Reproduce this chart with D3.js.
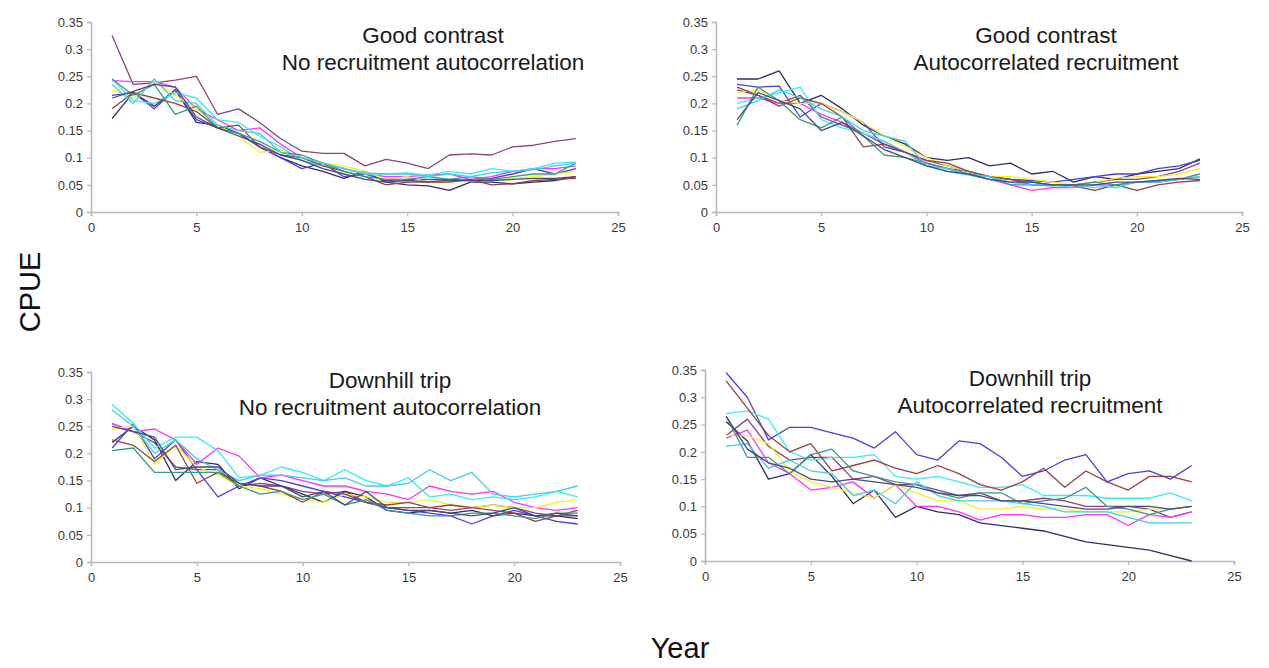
<!DOCTYPE html>
<html>
<head>
<meta charset="utf-8">
<script src="https://cdn.jsdelivr.net/npm/d3@7/dist/d3.min.js"></script>
<style>
  html, body { margin: 0; padding: 0; background: #fff; }
  svg { display: block; }
  text { font-family: "Liberation Sans", Arial, sans-serif; }
</style>
</head>
<body>
<svg id="chart" width="1269" height="668"></svg>
<script>
// ---------------- data ----------------
const years = d3.range(1, 24);
const xTicks = [0, 5, 10, 15, 20, 25];
const yTicks = [0, 0.05, 0.1, 0.15, 0.2, 0.25, 0.3, 0.35];
const yTickLabels = ["0", "0.05", "0.1", "0.15", "0.2", "0.25", "0.3", "0.35"];
const seriesColors = ["#884480", "#2e2e6a", "#4a3ee6", "#ff33ff", "#f2f222",
                      "#33eeee", "#994040", "#3a9a80", "#44ccee", "#4a4a78"];

const titleGoodNoAc = ["Good contrast", "No recruitment autocorrelation"];
const titleGoodAc = ["Good contrast", "Autocorrelated recruitment"];
const titleDownNoAc = ["Downhill trip", "No recruitment autocorrelation"];
const titleDownAc = ["Downhill trip", "Autocorrelated recruitment"];

// Good contrast, no recruitment autocorrelation
const goodNoAc = [
  [0.325,0.235,0.238,0.243,0.25,0.18,0.19,0.165,0.135,0.112,0.108,0.108,0.085,0.097,0.09,0.08,0.105,0.107,0.105,0.12,0.123,0.13,0.135],
  [0.172,0.22,0.195,0.225,0.165,0.16,0.145,0.12,0.1,0.085,0.075,0.062,0.075,0.055,0.05,0.048,0.04,0.055,0.055,0.052,0.055,0.058,0.065],
  [0.215,0.22,0.19,0.225,0.17,0.155,0.145,0.12,0.1,0.08,0.09,0.065,0.07,0.058,0.06,0.06,0.06,0.058,0.062,0.07,0.08,0.07,0.08],
  [0.242,0.24,0.24,0.23,0.19,0.17,0.15,0.155,0.125,0.1,0.09,0.08,0.07,0.065,0.065,0.068,0.07,0.06,0.065,0.075,0.08,0.08,0.085],
  [0.225,0.21,0.24,0.215,0.19,0.16,0.14,0.11,0.115,0.1,0.09,0.085,0.075,0.06,0.065,0.055,0.055,0.058,0.058,0.062,0.065,0.07,0.075],
  [0.245,0.205,0.2,0.22,0.21,0.17,0.165,0.14,0.12,0.095,0.085,0.08,0.07,0.07,0.072,0.068,0.075,0.07,0.08,0.075,0.08,0.09,0.092],
  [0.19,0.22,0.21,0.2,0.185,0.155,0.16,0.12,0.105,0.1,0.085,0.075,0.065,0.05,0.055,0.055,0.055,0.06,0.05,0.052,0.058,0.06,0.062],
  [0.245,0.215,0.235,0.18,0.195,0.155,0.145,0.13,0.11,0.105,0.09,0.075,0.065,0.06,0.06,0.065,0.06,0.065,0.06,0.065,0.07,0.07,0.09],
  [0.235,0.2,0.245,0.205,0.2,0.16,0.15,0.145,0.11,0.1,0.09,0.08,0.072,0.07,0.07,0.065,0.07,0.065,0.072,0.075,0.078,0.085,0.09],
  [0.21,0.222,0.235,0.23,0.175,0.155,0.14,0.125,0.105,0.095,0.08,0.07,0.06,0.055,0.058,0.056,0.058,0.058,0.058,0.06,0.062,0.062,0.065]
];

// Good contrast, autocorrelated recruitment
const goodAc = [
  [0.225,0.215,0.2,0.215,0.175,0.16,0.145,0.125,0.11,0.095,0.085,0.075,0.065,0.06,0.055,0.05,0.05,0.055,0.06,0.06,0.065,0.075,0.09],
  [0.245,0.245,0.26,0.2,0.215,0.19,0.16,0.14,0.125,0.1,0.095,0.1,0.085,0.09,0.07,0.075,0.055,0.065,0.06,0.07,0.075,0.08,0.098],
  [0.235,0.23,0.232,0.175,0.2,0.185,0.165,0.12,0.11,0.09,0.08,0.075,0.065,0.06,0.058,0.055,0.06,0.065,0.07,0.07,0.08,0.085,0.095],
  [0.21,0.21,0.2,0.2,0.18,0.165,0.145,0.13,0.11,0.09,0.08,0.07,0.06,0.05,0.04,0.045,0.045,0.05,0.05,0.055,0.055,0.06,0.065],
  [0.22,0.225,0.205,0.2,0.2,0.185,0.165,0.14,0.12,0.1,0.085,0.075,0.065,0.065,0.06,0.055,0.05,0.055,0.062,0.065,0.065,0.07,0.08],
  [0.2,0.21,0.22,0.23,0.17,0.155,0.145,0.13,0.11,0.085,0.075,0.068,0.06,0.055,0.05,0.05,0.05,0.045,0.05,0.055,0.058,0.06,0.065],
  [0.23,0.215,0.195,0.21,0.2,0.175,0.12,0.125,0.11,0.095,0.09,0.075,0.065,0.06,0.05,0.05,0.048,0.04,0.05,0.04,0.05,0.055,0.058],
  [0.16,0.23,0.205,0.17,0.155,0.175,0.14,0.105,0.1,0.09,0.08,0.07,0.065,0.05,0.05,0.048,0.05,0.055,0.05,0.055,0.055,0.06,0.07],
  [0.19,0.205,0.225,0.21,0.19,0.175,0.15,0.14,0.13,0.085,0.08,0.07,0.065,0.055,0.05,0.05,0.045,0.05,0.045,0.055,0.055,0.06,0.065],
  [0.17,0.22,0.205,0.19,0.15,0.165,0.14,0.115,0.1,0.085,0.075,0.07,0.06,0.055,0.055,0.05,0.05,0.05,0.055,0.055,0.058,0.062,0.06]
];

// Downhill trip, no recruitment autocorrelation
const downNoAc = [
  [0.255,0.24,0.22,0.175,0.17,0.17,0.14,0.145,0.14,0.13,0.125,0.13,0.11,0.1,0.1,0.1,0.095,0.1,0.105,0.1,0.09,0.085,0.085],
  [0.22,0.25,0.225,0.15,0.185,0.18,0.135,0.155,0.14,0.125,0.11,0.13,0.12,0.095,0.09,0.095,0.09,0.095,0.085,0.09,0.085,0.085,0.08],
  [0.21,0.255,0.19,0.225,0.17,0.12,0.14,0.155,0.15,0.14,0.13,0.12,0.11,0.1,0.095,0.09,0.085,0.07,0.085,0.095,0.085,0.075,0.07],
  [0.255,0.24,0.245,0.225,0.18,0.21,0.195,0.155,0.16,0.15,0.14,0.14,0.13,0.125,0.115,0.14,0.13,0.125,0.13,0.11,0.1,0.095,0.1],
  [0.245,0.25,0.18,0.215,0.175,0.16,0.14,0.135,0.125,0.115,0.11,0.125,0.12,0.11,0.11,0.115,0.105,0.1,0.105,0.1,0.1,0.11,0.115],
  [0.29,0.255,0.21,0.23,0.23,0.205,0.155,0.16,0.175,0.165,0.15,0.17,0.15,0.14,0.155,0.12,0.125,0.115,0.12,0.115,0.12,0.13,0.12],
  [0.225,0.215,0.185,0.215,0.145,0.165,0.145,0.14,0.13,0.11,0.13,0.125,0.11,0.105,0.11,0.1,0.105,0.1,0.095,0.09,0.075,0.085,0.095],
  [0.205,0.21,0.165,0.165,0.165,0.165,0.14,0.125,0.13,0.115,0.125,0.105,0.115,0.095,0.09,0.085,0.085,0.09,0.09,0.085,0.08,0.09,0.09],
  [0.28,0.25,0.2,0.225,0.19,0.17,0.15,0.16,0.16,0.155,0.15,0.155,0.14,0.14,0.145,0.17,0.15,0.165,0.125,0.12,0.125,0.13,0.14],
  [0.25,0.24,0.23,0.17,0.175,0.175,0.145,0.14,0.14,0.12,0.13,0.105,0.13,0.1,0.095,0.095,0.09,0.085,0.09,0.1,0.085,0.09,0.085]
];

// Downhill trip, autocorrelated recruitment
const downAc = [
  [0.23,0.26,0.21,0.185,0.19,0.19,0.15,0.155,0.14,0.14,0.13,0.12,0.125,0.11,0.11,0.115,0.11,0.1,0.1,0.1,0.095,0.08,0.09],
  [0.255,0.22,0.15,0.16,0.195,0.155,0.105,0.13,0.08,0.1,0.09,0.085,0.07,0.065,0.06,0.055,0.045,0.035,0.03,0.025,0.02,0.01,0.0],
  [0.345,0.3,0.222,0.245,0.245,0.235,0.225,0.207,0.237,0.195,0.185,0.22,0.215,0.19,0.155,0.165,0.185,0.195,0.145,0.16,0.165,0.15,0.175],
  [0.225,0.24,0.18,0.16,0.13,0.135,0.145,0.115,0.14,0.1,0.1,0.09,0.075,0.085,0.085,0.08,0.08,0.085,0.085,0.065,0.085,0.08,0.09],
  [0.23,0.23,0.215,0.165,0.145,0.135,0.125,0.115,0.14,0.125,0.11,0.11,0.095,0.095,0.1,0.095,0.095,0.09,0.09,0.09,0.095,0.095,0.1],
  [0.27,0.275,0.26,0.2,0.185,0.19,0.19,0.195,0.155,0.15,0.155,0.145,0.135,0.135,0.14,0.12,0.12,0.12,0.115,0.115,0.115,0.125,0.11],
  [0.33,0.28,0.23,0.2,0.215,0.165,0.175,0.185,0.17,0.16,0.175,0.16,0.14,0.13,0.145,0.17,0.135,0.165,0.145,0.13,0.155,0.155,0.145],
  [0.265,0.19,0.19,0.16,0.195,0.205,0.165,0.155,0.145,0.14,0.125,0.115,0.125,0.125,0.105,0.11,0.115,0.135,0.1,0.095,0.085,0.095,0.1],
  [0.21,0.215,0.17,0.185,0.165,0.16,0.12,0.13,0.105,0.145,0.12,0.11,0.11,0.11,0.105,0.1,0.09,0.09,0.09,0.08,0.07,0.07,0.07],
  [0.265,0.205,0.18,0.17,0.15,0.145,0.15,0.145,0.14,0.135,0.125,0.12,0.12,0.11,0.11,0.105,0.1,0.095,0.095,0.1,0.1,0.095,0.1]
];

// ---------------- layout ----------------
const panels = [
  { data: goodNoAc, title: titleGoodNoAc, x0: 91,  x1: 618,  yTop: 22,  yBot: 212, tx: 433,  ty: 43 },
  { data: goodAc,   title: titleGoodAc,   x0: 716, x1: 1242, yTop: 22,  yBot: 212, tx: 1046, ty: 43 },
  { data: downNoAc, title: titleDownNoAc, x0: 91,  x1: 620,  yTop: 372, yBot: 562, tx: 390,  ty: 388 },
  { data: downAc,   title: titleDownAc,   x0: 705, x1: 1234, yTop: 370, yBot: 561, tx: 1030, ty: 386 }
];

const svg = d3.select("#chart");

panels.forEach(p => {
  const x = d3.scaleLinear().domain([0, 25]).range([p.x0, p.x1]);
  const y = d3.scaleLinear().domain([0, 0.35]).range([p.yBot, p.yTop]);
  const g = svg.append("g");

  const xAxis = d3.axisBottom(x).tickValues(xTicks).tickSize(4).tickPadding(7).tickFormat(d3.format("d"));
  const yAxis = d3.axisLeft(y).tickValues(yTicks).tickSize(4).tickPadding(4)
                  .tickFormat((d, i) => yTickLabels[i]);

  const gx = g.append("g").attr("transform", `translate(0,${p.yBot})`).call(xAxis);
  const gy = g.append("g").attr("transform", `translate(${p.x0},0)`).call(yAxis);
  [gx, gy].forEach(a => {
    a.select(".domain").attr("stroke", "#b8b8b8").attr("stroke-width", 1.6);
    a.selectAll(".tick line").attr("stroke", "#b8b8b8").attr("stroke-width", 1.2);
    a.selectAll(".tick text").attr("fill", "#3a3a3a").style("font-size", "13px")
      .style("font-family", "'Liberation Sans', Arial, sans-serif");
  });

  const line = d3.line().x((d, i) => x(years[i])).y(d => y(d));
  p.data.forEach((s, k) => {
    g.append("path").datum(s)
      .attr("fill", "none")
      .attr("stroke", seriesColors[k])
      .attr("stroke-width", 1.3)
      .attr("stroke-linejoin", "round")
      .attr("d", line);
  });

  p.title.forEach((t, i) => {
    g.append("text").attr("x", p.tx).attr("y", p.ty + i * 27)
      .attr("text-anchor", "middle").attr("fill", "#1a1a1a")
      .style("font-size", "22.5px").text(t);
  });
});

// axis titles
svg.append("text").attr("transform", "translate(40,292) rotate(-90)")
  .attr("text-anchor", "middle").attr("fill", "#111").style("font-size", "29px").text("CPUE");
svg.append("text").attr("x", 680).attr("y", 658)
  .attr("text-anchor", "middle").attr("fill", "#111").style("font-size", "29px").text("Year");
</script>
</body>
</html>
